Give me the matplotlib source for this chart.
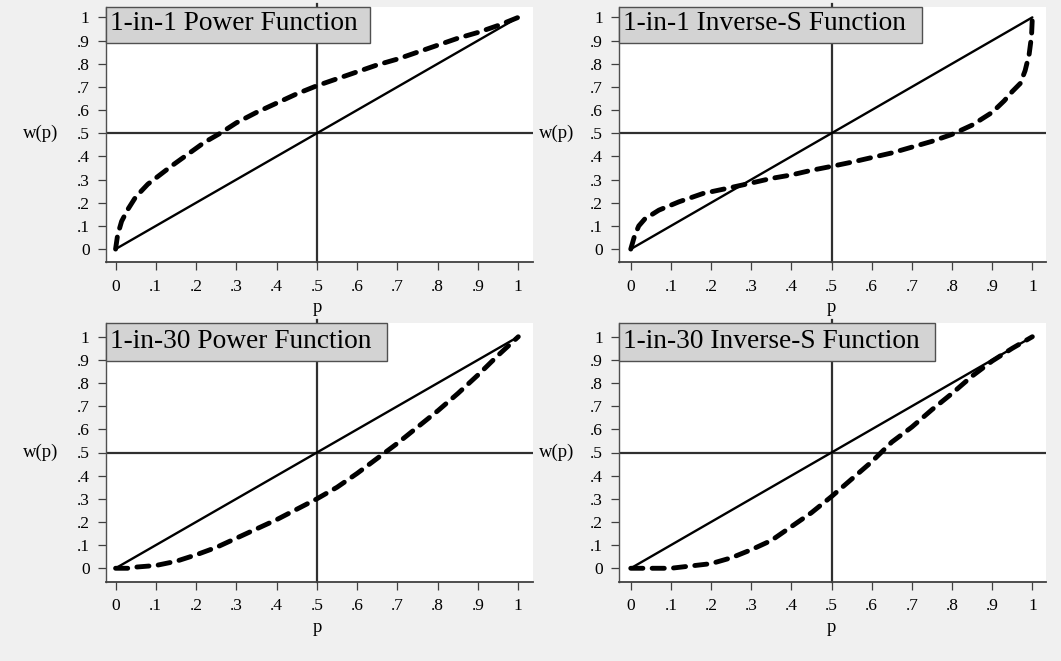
import matplotlib.pyplot as plt
from matplotlib.patches import Rectangle

plt.rcParams['font.family'] = ['Liberation Serif', 'DejaVu Serif']

W, H = 1061, 661

# diagonal reference (solid) line, same in all panels
diag_p = [0.0, 1.0]
diag_w = [0.0, 1.0]

# 1-in-1 power function (dashed)
pow1_p = [0, 0.005, 0.015, 0.03, 0.05, 0.08, 0.11, 0.14, 0.18, 0.22, 0.26, 0.3,
          0.35, 0.4, 0.45, 0.5, 0.55, 0.6, 0.65, 0.7, 0.75, 0.8, 0.85, 0.9, 0.95, 1.0]
pow1_w = [0, 0.06, 0.12, 0.17, 0.225, 0.28, 0.32, 0.36, 0.41, 0.46, 0.50, 0.545,
          0.59, 0.63, 0.67, 0.705, 0.735, 0.765, 0.795, 0.82, 0.85, 0.88, 0.91, 0.935, 0.965, 1.0]

# 1-in-1 inverse-S function (dashed)
invs1_p = [0, 0.005, 0.01, 0.02, 0.035, 0.07, 0.12, 0.18, 0.24, 0.3, 0.35, 0.4, 0.45,
           0.5, 0.55, 0.6, 0.65, 0.7, 0.75, 0.8, 0.85, 0.9, 0.93, 0.95, 0.97, 0.982,
           0.992, 0.998, 1.0]
invs1_w = [0, 0.03, 0.06, 0.10, 0.13, 0.168, 0.204, 0.24, 0.262, 0.285, 0.305, 0.32, 0.34,
           0.357, 0.375, 0.395, 0.415, 0.44, 0.465, 0.495, 0.535, 0.59, 0.64, 0.68, 0.715, 0.77,
           0.84, 0.92, 1.0]

# 1-in-30 power function (dashed)
pow30_p = [0, 0.03, 0.05, 0.1, 0.15, 0.2, 0.25, 0.3, 0.35, 0.4, 0.45, 0.5, 0.55, 0.6,
           0.65, 0.7, 0.75, 0.8, 0.85, 0.9, 0.95, 1.0]
pow30_w = [0, 0.0, 0.005, 0.012, 0.03, 0.058, 0.09, 0.13, 0.17, 0.21, 0.255, 0.30, 0.35,
           0.41, 0.475, 0.54, 0.61, 0.68, 0.755, 0.835, 0.92, 1.0]

# 1-in-30 inverse-S function (dashed)
invs30_p = [0, 0.05, 0.1, 0.15, 0.2, 0.25, 0.3, 0.35, 0.4, 0.45, 0.5, 0.55, 0.6, 0.65,
            0.7, 0.75, 0.8, 0.85, 0.9, 0.95, 1.0]
invs30_w = [0, 0.0, 0.0, 0.01, 0.02, 0.045, 0.08, 0.12, 0.18, 0.24, 0.31, 0.385, 0.46,
            0.545, 0.61, 0.685, 0.755, 0.83, 0.895, 0.95, 1.0]

ticks = [0, 0.1, 0.2, 0.3, 0.4, 0.5, 0.6, 0.7, 0.8, 0.9, 1.0]
tick_labels = ['0', '.1', '.2', '.3', '.4', '.5', '.6', '.7', '.8', '.9', '1']

titles = ['1-in-1 Power Function', '1-in-1 Inverse-S Function',
          '1-in-30 Power Function', '1-in-30 Inverse-S Function']
curves = [(pow1_p, pow1_w), (invs1_p, invs1_w), (pow30_p, pow30_w), (invs30_p, invs30_w)]

# panel layout in pixels: left, top, right, bottom
rects = [(105.5, 6.7, 533, 262.3), (618.7, 6.7, 1046.4, 262.3),
         (105.5, 323.3, 533, 581.7), (618.7, 323.3, 1046.4, 581.7)]
xlims = [(-0.025, 1.0365), (-0.030, 1.035), (-0.025, 1.0365), (-0.030, 1.035)]
ylims = [(-0.057, 1.046), (-0.057, 1.046), (-0.058, 1.058), (-0.058, 1.058)]
box_right = [370, 921.8, 387.4, 935.3]
box_h = [36.6, 36.6, 37.4, 37.4]
base_off = [23.0, 23.0, 25.0, 25.0]
ylab_x = [41, 557, 41, 557]
xlab_y = [308, 308, 627, 627]

fig = plt.figure(figsize=(W / 100, H / 100), dpi=100, facecolor='#f0f0f0')


def fx(x):
    return x / W


def fy(y):
    return 1 - y / H


for i, ax_rect in enumerate(rects):
    l, t, r, b = ax_rect
    ax = fig.add_axes([fx(l), fy(b), (r - l) / W, (b - t) / H])
    ax.set_facecolor('white')
    ax.set_xlim(*xlims[i])
    ax.set_ylim(*ylims[i])

    ax.axhline(0.5, color='#303030', lw=1.6, zorder=2)
    ax.axvline(0.5, ymin=0, ymax=1.012, color='#303030', lw=1.6, zorder=2, clip_on=False)

    ax.plot(diag_p, diag_w, color='black', lw=1.7, zorder=3, solid_capstyle='round')
    cp, cw = curves[i]
    ax.plot(cp, cw, color='black', lw=3.5, zorder=4, dashes=(2.5, 1.9),
            dash_capstyle='round', solid_joinstyle='round')

    ax.set_xticks(ticks)
    ax.set_xticklabels(tick_labels)
    ax.set_yticks(ticks)
    ax.set_yticklabels(tick_labels)
    ax.tick_params(axis='both', labelsize=12.5, length=6, width=0.9, color='#404040',
                   direction='out')
    ax.tick_params(axis='x', pad=6)
    ax.tick_params(axis='y', pad=5.5)

    for side in ['top', 'right']:
        ax.spines[side].set_visible(False)
    ax.spines['left'].set_color('#505050')
    ax.spines['left'].set_linewidth(1.0)
    ax.spines['bottom'].set_color('#404040')
    ax.spines['bottom'].set_linewidth(1.3)

    # title box in the upper left corner of the plot region
    fig.patches.append(Rectangle((fx(l), fy(t + box_h[i])), (box_right[i] - l) / W, box_h[i] / H,
                                 transform=fig.transFigure, facecolor='#d3d3d3',
                                 edgecolor='#505050', lw=1.0, zorder=10))
    fig.text(fx(l + 4), fy(t + base_off[i]), titles[i], fontsize=19.7, va='baseline',
             ha='left', zorder=11)

    fig.text(fx(ylab_x[i]), fy(t + (b - t) * (ylims[i][1] - 0.5) / (ylims[i][1] - ylims[i][0])),
             'w(p)', fontsize=13.5, ha='center', va='center')
    x_half = l + (r - l) * (0.5 - xlims[i][0]) / (xlims[i][1] - xlims[i][0])
    fig.text(fx(x_half), fy(xlab_y[i]), 'p', fontsize=13.5, ha='center', va='center')

fig.savefig('out.png', dpi=100, facecolor=fig.get_facecolor())
